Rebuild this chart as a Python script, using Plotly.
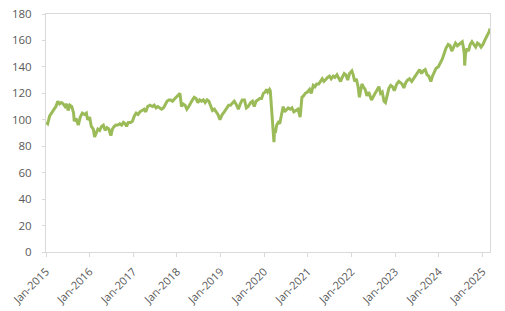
import plotly.graph_objects as go

dates = [
"2015-01-02","2015-01-15","2015-02-01","2015-02-20","2015-03-10","2015-03-25","2015-04-10","2015-04-25","2015-05-10","2015-05-25",
"2015-06-10","2015-06-25","2015-07-05","2015-07-20","2015-08-05","2015-08-20","2015-08-25","2015-09-10","2015-09-28","2015-10-15",
"2015-11-01","2015-11-20","2015-12-05","2015-12-15","2016-01-01","2016-01-15","2016-02-01","2016-02-12","2016-02-25","2016-03-10",
"2016-03-25","2016-04-10","2016-04-25","2016-05-10","2016-05-25","2016-06-10","2016-06-27","2016-07-10","2016-07-25","2016-08-10",
"2016-08-25","2016-09-10","2016-09-25","2016-10-10","2016-10-25","2016-11-05","2016-11-20","2016-12-10","2016-12-25","2017-01-10",
"2017-01-25","2017-02-10","2017-02-25","2017-03-15","2017-04-01","2017-04-15","2017-05-01","2017-05-20","2017-06-10","2017-06-25",
"2017-07-10","2017-07-25","2017-08-10","2017-08-25","2017-09-10","2017-09-25","2017-10-10","2017-10-25","2017-11-10","2017-11-25",
"2017-12-10","2017-12-25","2018-01-15","2018-01-26","2018-02-08","2018-02-20","2018-03-10","2018-03-25","2018-04-10","2018-04-25",
"2018-05-10","2018-05-25","2018-06-10","2018-06-25","2018-07-10","2018-07-25","2018-08-10","2018-08-25","2018-09-10","2018-09-25",
"2018-10-10","2018-10-25","2018-11-10","2018-11-25","2018-12-10","2018-12-27","2019-01-15","2019-02-01","2019-02-20","2019-03-10",
"2019-03-25","2019-04-10","2019-04-25","2019-05-10","2019-05-30","2019-06-15","2019-07-01","2019-07-20","2019-08-05","2019-08-20",
"2019-09-10","2019-09-25","2019-10-10","2019-10-25","2019-11-10","2019-11-25","2019-12-10","2019-12-25","2020-01-10","2020-01-20",
"2020-01-31","2020-02-15","2020-02-21","2020-02-28","2020-03-09","2020-03-16","2020-03-23","2020-03-27","2020-04-03","2020-04-15",
"2020-04-28","2020-05-10","2020-05-25","2020-06-08","2020-06-20","2020-07-05","2020-07-20","2020-08-05","2020-08-20","2020-09-05",
"2020-09-20","2020-10-10","2020-10-28","2020-11-05","2020-11-12","2020-11-25","2020-12-10","2020-12-28","2021-01-15","2021-01-29",
"2021-02-15","2021-03-01","2021-03-15","2021-04-01","2021-04-15","2021-05-01","2021-05-15","2021-06-01","2021-06-15","2021-07-01",
"2021-07-15","2021-08-01","2021-08-15","2021-09-01","2021-09-15","2021-10-01","2021-10-15","2021-11-01","2021-11-15","2021-11-30",
"2021-12-15","2022-01-04","2022-01-15","2022-01-28","2022-02-10","2022-02-25","2022-03-08","2022-03-15","2022-03-29","2022-04-10",
"2022-04-25","2022-05-10","2022-05-25","2022-06-17","2022-07-01","2022-07-15","2022-08-05","2022-08-18","2022-09-01","2022-09-15",
"2022-09-30","2022-10-12","2022-10-25","2022-11-10","2022-11-25","2022-12-10","2022-12-25","2023-01-15","2023-02-01","2023-02-15",
"2023-03-01","2023-03-15","2023-03-31","2023-04-15","2023-05-01","2023-05-20","2023-06-10","2023-06-25","2023-07-10","2023-07-25",
"2023-08-10","2023-08-25","2023-09-10","2023-09-25","2023-10-10","2023-10-27","2023-11-10","2023-11-25","2023-12-10","2023-12-28",
"2024-01-15","2024-01-31","2024-02-15","2024-03-01","2024-03-20","2024-04-05","2024-04-19","2024-05-05","2024-05-20","2024-06-05",
"2024-06-20","2024-07-05","2024-07-16","2024-07-25","2024-08-02","2024-08-05","2024-08-12","2024-08-25","2024-09-06","2024-09-20",
"2024-10-05","2024-10-20","2024-11-05","2024-11-20","2024-12-05","2024-12-20","2025-01-05","2025-01-20","2025-02-01","2025-02-15",
"2025-02-28","2025-03-05",
]

values = [
98, 97, 103, 106, 108, 110, 114, 112, 113, 112,
110, 112, 107, 111, 110, 105, 99, 101, 96, 102,
105, 104, 105, 100, 102, 95, 93, 87, 90, 93,
92, 95, 96, 92, 94, 93, 88, 93, 95, 96,
96, 97, 96, 98, 97, 95, 98, 98, 99, 103,
105, 104, 106, 107, 108, 106, 110, 111, 110, 111,
109, 110, 109, 108, 109, 112, 114, 115, 115, 114,
116, 117, 119, 120, 110, 112, 111, 108, 110, 113,
115, 117, 116, 113, 115, 114, 115, 113, 115, 114,
110, 107, 108, 106, 104, 100, 104, 106, 109, 111,
111, 113, 114, 112, 108, 112, 115, 115, 109, 110,
113, 114, 110, 114, 115, 116, 116, 120, 121, 123,
121, 123, 122, 113, 103, 88, 83, 92, 90, 96,
98, 97, 104, 110, 106, 108, 109, 108, 109, 106,
107, 108, 102, 110, 117, 118, 120, 121, 123, 120,
126, 125, 127, 127, 129, 131, 129, 131, 132, 133,
131, 133, 132, 134, 131, 129, 132, 135, 134, 130,
135, 137, 134, 129, 131, 125, 117, 120, 127, 125,
123, 118, 121, 115, 117, 119, 123, 125, 120, 121,
114, 113, 118, 124, 126, 125, 122, 127, 129, 128,
127, 124, 128, 130, 131, 129, 132, 134, 136, 138,
135, 137, 138, 134, 133, 129, 133, 136, 139, 140,
143, 146, 150, 154, 157, 156, 152, 155, 158, 156,
157, 158, 159, 155, 150, 141, 150, 154, 152, 157,
159, 157, 155, 158, 157, 155, 157, 160, 162, 165,
167, 169,
]

y_ticks = [0, 20, 40, 60, 80, 100, 120, 140, 160, 180]

fig = go.Figure()
fig.add_trace(go.Scatter(
    x=dates, y=values, mode="lines",
    line=dict(color="#9BBB59", width=3),
    showlegend=False,
))

x_font = dict(family="Open Sans, Liberation Sans, sans-serif", size=11, color="#595959")
y_font = dict(family="Open Sans, Liberation Sans, sans-serif", size=11.5, color="#595959")

fig.update_layout(
    width=505, height=311,
    margin=dict(l=46, r=15, t=14, b=59),
    paper_bgcolor="white", plot_bgcolor="white",
    xaxis=dict(
        type="date", automargin=False,
        range=["2015-01-01", "2025-03-05"],
        tick0="2015-01-01", dtick="M12",
        tickformat="%b-%Y", tickangle=-45,
        showgrid=False, zeroline=False,
        showline=True, linecolor="#D9D9D9", linewidth=1, mirror=True,
        ticks="outside", ticklen=4, tickcolor="#D9D9D9",
        tickfont=x_font, ticklabelstandoff=4,
    ),
    yaxis=dict(
        automargin=False,
        range=[0, 180], tickvals=y_ticks,
        showgrid=False, zeroline=False,
        showline=True, linecolor="#D9D9D9", linewidth=1, mirror=True,
        ticks="outside", ticklen=3, tickcolor="#D9D9D9",
        tickfont=y_font, ticklabelstandoff=8,
    ),
)

fig.write_html("out.html")
